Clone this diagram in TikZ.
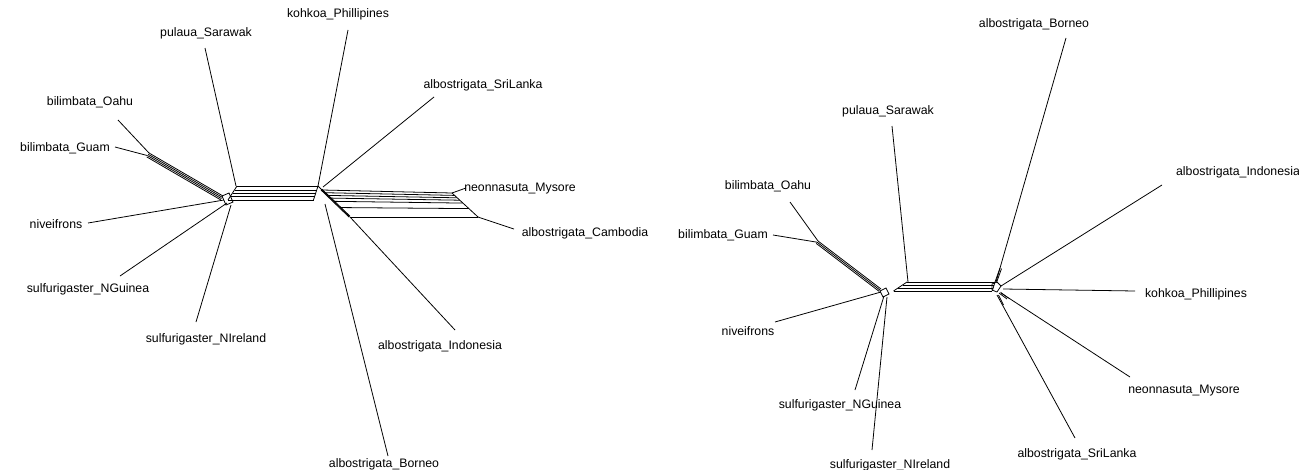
\documentclass[tikz,border=0pt]{standalone}
\usepackage{fontspec}
\setmainfont{Liberation Sans}
\tikzset{leaf/.style={font=\fontsize{7}{8}\selectfont, inner sep=0pt},
	edge/.style={line width=0.45pt}}

\begin{document}
\begin{tikzpicture}[x=0.02cm,y=-0.02cm,edge]
		\useasboundingbox (0,0) rectangle (1299,470);
		%		left network
		\coordinate (lA) at (237,186);
		\coordinate (lB) at (318,186);
		\coordinate (lhub) at (226,198);
		\coordinate (lbil) at (149,153);
		\coordinate (lbilend) at (223,196);
		\coordinate (lnA) at (322,190);
		\coordinate (lnB) at (452,193);
		\coordinate (lnC) at (478,217);
		\coordinate (lnD) at (350,217);
		\node[leaf] (lpul) at (206,33){pulaua\_Sarawak};
		\node[leaf] (lkoh) at (338,14){kohkoa\_Phillipines};
		\node[leaf] (lsri) at (483,85){albostrigata\_SriLanka};
		\node[leaf] (loah) at (90,102){bilimbata\_Oahu};
		\node[leaf] (lgua) at (65,148){bilimbata\_Guam};
		\node[leaf] (lneo) at (520,189){neonnasuta\_Mysore};
		\node[leaf] (lniv) at (56,224){niveifrons};
		\node[leaf] (lcam) at (585,233){albostrigata\_Cambodia};
		\node[leaf] (lngu) at (88,289){sulfurigaster\_NGuinea};
		\node[leaf] (lnir) at (206,339){sulfurigaster\_NIreland};
		\node[leaf] (lind) at (440,346){albostrigata\_Indonesia};
		\node[leaf] (lbor) at (384,464){albostrigata\_Borneo};
		\coordinate (lpulE) at (205,48);
		\coordinate (lkohE) at (348,30);
		\coordinate (lsriE) at (434,97);
		\coordinate (loahE) at (118,120);
		\coordinate (lguaE) at (115,147);
		\coordinate (lneoE) at (466,188);
		\coordinate (lnivE) at (88,223);
		\coordinate (lcamE) at (514,229);
		\coordinate (lnguE) at (120,276);
		\coordinate (lnirE) at (196,322);
		\coordinate (lindE) at (455,330);
		\coordinate (lborE) at (388,456);
		% central split band
		\foreach \dx/\dy in {0/0,-2/4,-4/7,-6/10,-9/14}
		\draw ([shift={(\dx,\dy)}]lA) -- ([shift={(\dx*0.5,\dy)}]lB);
		\draw (lA) -- ++(-9,14);
		\draw (lB) -- ++(-4.5,14);
		% left hub
		\draw (lhub) ++(-4,-2) -- ++(7,-3) -- ++(4,9) -- ++(-7,3) -- cycle;
		\foreach \o in {0,1,2,3}
		\draw ([shift={(-0.75*\o,1.3*\o)}]lbil) -- ([shift={(-0.75*\o,1.3*\o)}]lbilend);
		\draw (lbil) -- (loahE);
		\draw ([shift={(-1.5,2.6)}]lbil) -- (lguaE);
		\draw ([shift={(-2,2)}]lhub) -- (lnivE);
		\draw ([shift={(1,5)}]lhub) -- (lnguE);
		\draw ([shift={(5,7)}]lhub) -- (lnirE);
		\draw ([shift={(-1,0)}]lA) -- (lpulE);
		% right hub
		\draw (lB) -- (lkohE);
		\draw ([shift={(5,1)}]lB) -- (lsriE);
		\foreach \t in {0,0.1,0.2,0.3,0.42,0.65,1}
		\draw ([shift={(\t*28,\t*27)}]lnA) -- ([shift={(\t*26,\t*24)}]lnB);
		\foreach \o in {0,1.5,3}
		\draw ([shift={(-1+\o*0.3,-\o*0.3)}]lnA) -- ([shift={(-1+\o*0.3,-\o*0.3)}]lnD);
		\draw (lnB) -- (lnC);
		\draw (lB) -- ++(4,4) -- (lnA);
		\draw (lnB) -- (lneoE);
		\draw (lnC) -- (lcamE);
		\draw (lnD) -- (lindE);
		\draw ([shift={(7,18)}]lB) -- (lborE);
		%		right network
		\coordinate (rA) at (907,282);
		\coordinate (rB) at (995,282);
		\coordinate (rhub) at (884,292);
		\coordinate (rbil) at (818,241);
		\coordinate (rbilend) at (881,289);
		\coordinate (rhub2) at (995,288);
		\node[leaf] (rbor) at (1034,24){albostrigata\_Borneo};
		\node[leaf] (rpul) at (888,111){pulaua\_Sarawak};
		\node[leaf] (rind) at (1238,172){albostrigata\_Indonesia};
		\node[leaf] (roah) at (768,186){bilimbata\_Oahu};
		\node[leaf] (rgua) at (723,235){bilimbata\_Guam};
		\node[leaf] (rkoh) at (1196,294){kohkoa\_Phillipines};
		\node[leaf] (rniv) at (748,331){niveifrons};
		\node[leaf] (rneo) at (1184,391){neonnasuta\_Mysore};
		\node[leaf] (rngu) at (840,405){sulfurigaster\_NGuinea};
		\node[leaf] (rnir) at (890,465){sulfurigaster\_NIreland};
		\node[leaf] (rsri) at (1077,454){albostrigata\_SriLanka};
		\coordinate (rborE) at (1066,38);
		\coordinate (rpulE) at (892,126);
		\coordinate (rindE) at (1162,185);
		\coordinate (roahE) at (790,202);
		\coordinate (rguaE) at (773,235);
		\coordinate (rkohE) at (1135,291);
		\coordinate (rnivE) at (775,322);
		\coordinate (rneoE) at (1130,377);
		\coordinate (rnguE) at (855,390);
		\coordinate (rnirE) at (872,450);
		\coordinate (rsriE) at (1075,438);
		% central split band
		\foreach \dy in {0,3,6,9}
		\draw ([shift={(-1.5*\dy,\dy)}]rA) -- ([shift={(-0.3*\dy,\dy)}]rB);
		\draw (rA) -- ++(-13.5,9);
		\draw (rB) -- ++(-2.7,9);
		% left hub
		\draw (rhub) ++(-4,-1) -- ++(6,-3) -- ++(3,6) -- ++(-6,3) -- cycle;
		\foreach \o in {0,1,2}
		\draw ([shift={(-0.9*\o,1.2*\o)}]rbil) -- ([shift={(-0.9*\o,1.2*\o)}]rbilend);
		\draw (rbil) -- (roahE);
		\draw ([shift={(-0.9,1.2)}]rbil) -- (rguaE);
		\draw ([shift={(-3,0)}]rhub) -- (rnivE);
		\draw ([shift={(0,4)}]rhub) -- (rnguE);
		\draw ([shift={(3,5)}]rhub) -- (rnirE);
		\draw ([shift={(1,0)}]rA) -- (rpulE);
		% right hub
		\draw (rhub2) ++(-3,-4) -- ++(5,-2) -- ++(4,4) -- ++(-4,6) -- ++(-5,-2) -- cycle;
		\foreach \o in {0,1.5}
		\draw ([shift={(\o,\o*0.4)}]rhub2) ++(0,-6) -- ++(5,-14);
		\draw ([shift={(1,-6)}]rhub2) -- (rborE);
		\draw ([shift={(6,-2)}]rhub2) -- (rindE);
		\draw ([shift={(8,1)}]rhub2) -- (rkohE);
		\foreach \o in {0,1.5}
		\draw ([shift={(4+\o,5-\o*0.5)}]rhub2) -- ++(8,6);
		\draw ([shift={(6,5)}]rhub2) -- (rneoE);
		\draw ([shift={(2,7)}]rhub2) -- (rsriE);
		\draw ([shift={(3.5,7)}]rhub2) -- ++(5,10);
\end{tikzpicture}
\end{document}
